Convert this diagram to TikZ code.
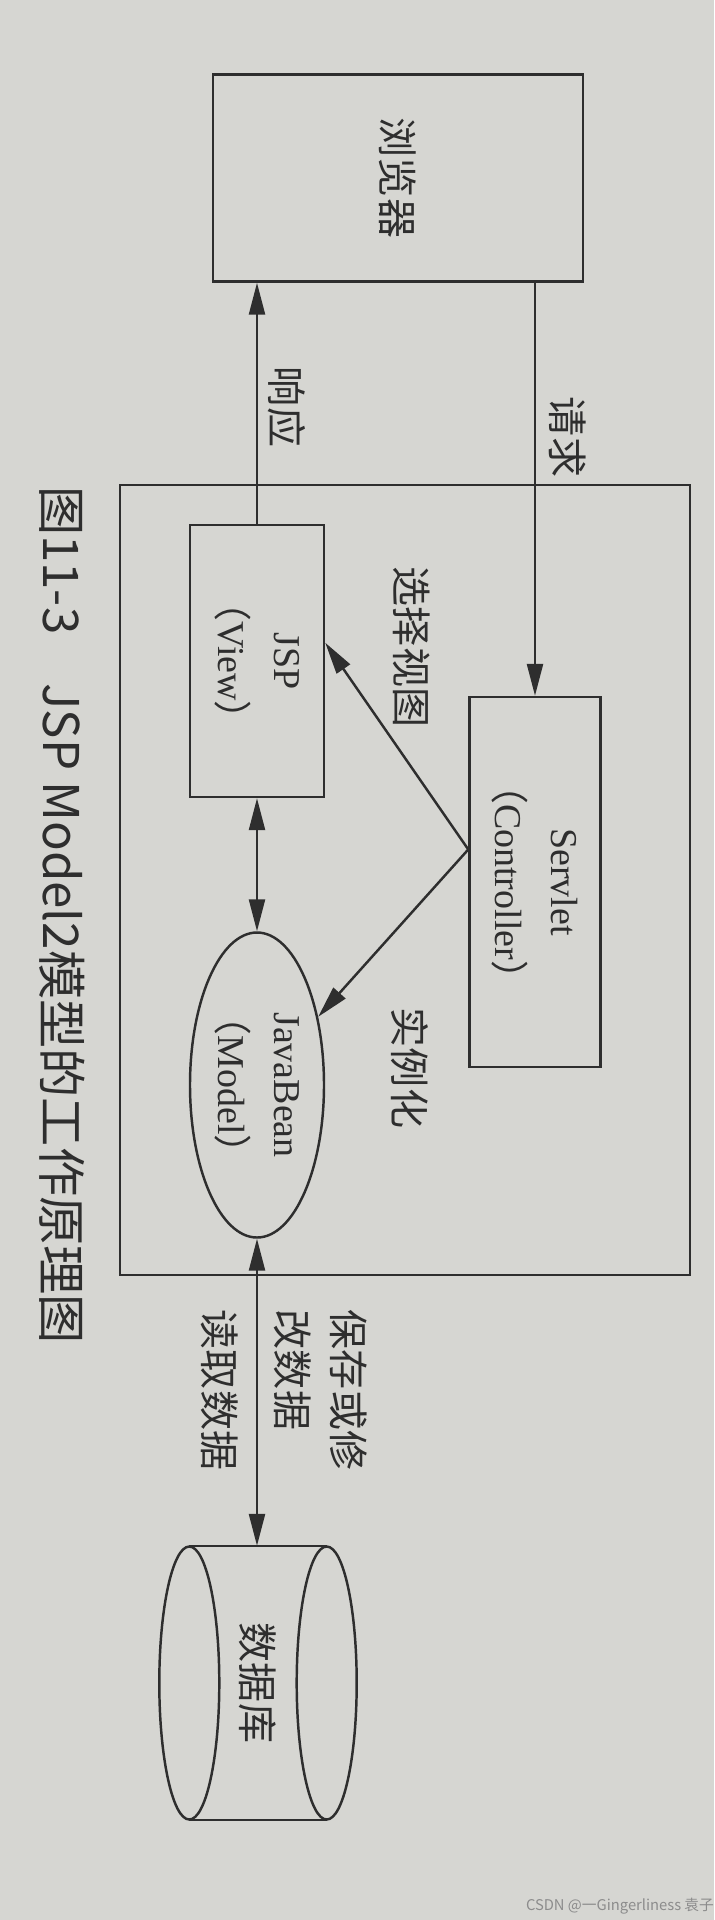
\documentclass[tikz,border=0pt]{standalone}
\usepackage{fontspec}
\setmainfont{Liberation Serif}
\newfontfamily\cjk{Noto Sans CJK SC}
\usetikzlibrary{arrows.meta,shapes.geometric}
\definecolor{paper}{HTML}{D6D6D2}
\definecolor{ink}{HTML}{2E2E2E}
\definecolor{creditGray}{HTML}{8C8C8C}
\newcommand{\roleparen}[1]{{\cjk （}#1{\cjk ）}}

\begin{document}
\begin{tikzpicture}[
    x=0.1mm, y=-0.1mm,
    block/.style={
        rectangle, draw=ink, rotate=-90,
        line width=0.7pt, inner sep=0pt,
        align=center, text=ink,
        font=\fontsize{10.8}{16}\selectfont
    },
    model/.style={block, ellipse},
    tag/.style={
        rotate=-90, inner sep=0pt, align=left, text=ink,
        font=\cjk\fontsize{11.4}{16}\selectfont
    },
    wire/.style={line width=0.7pt, draw=ink},
    arrow/.style={wire, -{Triangle[length=3.2mm,width=1.6mm]}},
    twoway/.style={wire, {Triangle[length=3.2mm,width=1.6mm]}-{Triangle[length=3.2mm,width=1.6mm]}}
]
  % Page
  \fill[paper] (0,0) rectangle (714,1920);

  % Nodes
  \node[block, minimum width=20.7mm, minimum height=37mm,
        font=\cjk\fontsize{11.4}{16}\selectfont] (browser) at (398,178) {浏览器};

  \node[draw=ink, line width=0.7pt, minimum width=57mm, minimum height=79mm] (server) at (405,880) {};

  \node[block, minimum width=27.2mm, minimum height=13.4mm] (jsp) at (257,661) {JSP\\\roleparen{View}};

  \node[block, minimum width=37mm, minimum height=13.1mm] (servlet) at (535,882) {Servlet\\\roleparen{Controller}};

  \node[model, minimum width=30.5mm, minimum height=13.4mm] (bean) at (257,1085) {JavaBean\\\roleparen{Model}};

  \node[tag, minimum width=27.3mm, minimum height=13.6mm] (db) at (258,1683) {数据库};

  % Database drum
  \draw[wire] (db.south west) -- (db.north west) (db.south east) -- (db.north east);
  \draw[wire] (db.south) ellipse [x radius=3mm, y radius=13.65mm];
  \draw[wire] (db.north) ellipse [x radius=3mm, y radius=13.65mm];

  % Flow arrows
  \draw[arrow] (servlet.west |- browser.east) -- (servlet.west);
  \draw[arrow] (jsp.west) -- (jsp.west |- browser.east);
  \draw[arrow] (servlet.244) -- (jsp.105);
  \draw[arrow] (servlet.244) -- (bean);
  \draw[twoway] (jsp.east) -- (bean.west);
  \draw[twoway] (bean.east) -- (bean.east |- db.west);

  % Labels
  \node[tag] (reqtag) at (568,437) {请求};
  \node[tag] (resptag) at (287,407) {响应};
  \node[tag] (viewtag) at (412,647) {选择视图};
  \node[tag] (newtag) at (410,1068) {实例化};
  \node[tag] (savetag) at (321,1390) {保存或修\\改数据};
  \node[tag] (readtag) at (220,1390) {读取数据};

  % Caption
  \node[tag, font=\cjk\fontsize{14}{16}\selectfont] (caption) at (62,915) {图11-3\quad JSP Model2模型的工作原理图};

  \node[inner sep=0pt, text=creditGray, font=\cjk\fontsize{4.2}{5}\selectfont] (credit) at (620,1906) {CSDN @一Gingerliness 袁子};

\end{tikzpicture}
\end{document}
